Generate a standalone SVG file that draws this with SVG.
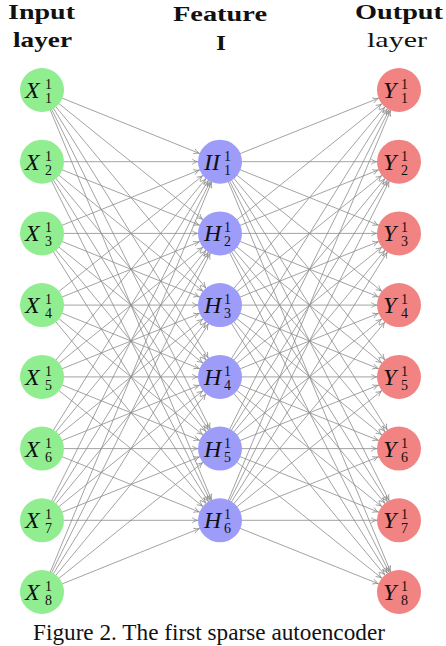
<svg xmlns="http://www.w3.org/2000/svg" width="446" height="646" viewBox="0 0 446 646">
<style>
.e line{stroke:#8c8c8c;stroke-width:0.8;fill:none;marker-end:url(#ah)}
.hd{font-family:"Liberation Serif",serif;font-weight:bold;font-size:21px;fill:#111}
.in{fill:#90ee90}
.hid{fill:#9d9cf8}
.out{fill:#f28383}
.m{font-family:"Liberation Serif",serif;font-style:italic;font-size:24px;fill:#111}
.s{font-family:"Liberation Serif",serif;font-size:14px;fill:#111}
.cap{font-family:"Liberation Serif",serif;font-size:23px;fill:#111}
</style>
<defs>
<marker id="ah" markerUnits="userSpaceOnUse" markerWidth="40" markerHeight="40" refX="22.3" refY="0" orient="auto" overflow="visible">
<path d="M-5.5,-2.6 C-3.6,-1.1 -1.2,-0.3 0,0 C-1.2,0.3 -3.6,1.1 -5.5,2.6" fill="none" stroke="#8c8c8c" stroke-width="0.8"/>
</marker>
</defs>
<rect width="446" height="646" fill="#fff"/>
<text class="hd" x="8" y="19" textLength="67" lengthAdjust="spacingAndGlyphs">Input</text>
<text class="hd" x="13" y="47" textLength="59" lengthAdjust="spacingAndGlyphs">layer</text>
<text class="hd" x="173" y="21" textLength="94" lengthAdjust="spacingAndGlyphs">Feature</text>
<text class="hd" x="216" y="50" textLength="10" lengthAdjust="spacingAndGlyphs">I</text>
<text class="hd" x="355" y="19" textLength="88" lengthAdjust="spacingAndGlyphs">Output</text>
<text class="hd" x="367" y="47" textLength="60" lengthAdjust="spacingAndGlyphs" style="font-weight:normal">layer</text>
<g class="e" id="connectors">
<line x1="42" y1="90" x2="220" y2="161.7"/><line x1="42" y1="90" x2="220" y2="233.4"/><line x1="42" y1="90" x2="220" y2="305.1"/><line x1="42" y1="90" x2="220" y2="376.9"/><line x1="42" y1="90" x2="220" y2="448.6"/><line x1="42" y1="90" x2="220" y2="520.3"/>
<line x1="42" y1="161.7" x2="220" y2="161.7"/><line x1="42" y1="161.7" x2="220" y2="233.4"/><line x1="42" y1="161.7" x2="220" y2="305.1"/><line x1="42" y1="161.7" x2="220" y2="376.9"/><line x1="42" y1="161.7" x2="220" y2="448.6"/><line x1="42" y1="161.7" x2="220" y2="520.3"/>
<line x1="42" y1="233.4" x2="220" y2="161.7"/><line x1="42" y1="233.4" x2="220" y2="233.4"/><line x1="42" y1="233.4" x2="220" y2="305.1"/><line x1="42" y1="233.4" x2="220" y2="376.9"/><line x1="42" y1="233.4" x2="220" y2="448.6"/><line x1="42" y1="233.4" x2="220" y2="520.3"/>
<line x1="42" y1="305.1" x2="220" y2="161.7"/><line x1="42" y1="305.1" x2="220" y2="233.4"/><line x1="42" y1="305.1" x2="220" y2="305.1"/><line x1="42" y1="305.1" x2="220" y2="376.9"/><line x1="42" y1="305.1" x2="220" y2="448.6"/><line x1="42" y1="305.1" x2="220" y2="520.3"/>
<line x1="42" y1="376.9" x2="220" y2="161.7"/><line x1="42" y1="376.9" x2="220" y2="233.4"/><line x1="42" y1="376.9" x2="220" y2="305.1"/><line x1="42" y1="376.9" x2="220" y2="376.9"/><line x1="42" y1="376.9" x2="220" y2="448.6"/><line x1="42" y1="376.9" x2="220" y2="520.3"/>
<line x1="42" y1="448.6" x2="220" y2="161.7"/><line x1="42" y1="448.6" x2="220" y2="233.4"/><line x1="42" y1="448.6" x2="220" y2="305.1"/><line x1="42" y1="448.6" x2="220" y2="376.9"/><line x1="42" y1="448.6" x2="220" y2="448.6"/><line x1="42" y1="448.6" x2="220" y2="520.3"/>
<line x1="42" y1="520.3" x2="220" y2="161.7"/><line x1="42" y1="520.3" x2="220" y2="233.4"/><line x1="42" y1="520.3" x2="220" y2="305.1"/><line x1="42" y1="520.3" x2="220" y2="376.9"/><line x1="42" y1="520.3" x2="220" y2="448.6"/><line x1="42" y1="520.3" x2="220" y2="520.3"/>
<line x1="42" y1="592" x2="220" y2="161.7"/><line x1="42" y1="592" x2="220" y2="233.4"/><line x1="42" y1="592" x2="220" y2="305.1"/><line x1="42" y1="592" x2="220" y2="376.9"/><line x1="42" y1="592" x2="220" y2="448.6"/><line x1="42" y1="592" x2="220" y2="520.3"/>
<line x1="220" y1="161.7" x2="399" y2="90"/><line x1="220" y1="161.7" x2="399" y2="161.7"/><line x1="220" y1="161.7" x2="399" y2="233.4"/><line x1="220" y1="161.7" x2="399" y2="305.1"/><line x1="220" y1="161.7" x2="399" y2="376.9"/><line x1="220" y1="161.7" x2="399" y2="448.6"/><line x1="220" y1="161.7" x2="399" y2="520.3"/><line x1="220" y1="161.7" x2="399" y2="592"/>
<line x1="220" y1="233.4" x2="399" y2="90"/><line x1="220" y1="233.4" x2="399" y2="161.7"/><line x1="220" y1="233.4" x2="399" y2="233.4"/><line x1="220" y1="233.4" x2="399" y2="305.1"/><line x1="220" y1="233.4" x2="399" y2="376.9"/><line x1="220" y1="233.4" x2="399" y2="448.6"/><line x1="220" y1="233.4" x2="399" y2="520.3"/><line x1="220" y1="233.4" x2="399" y2="592"/>
<line x1="220" y1="305.1" x2="399" y2="90"/><line x1="220" y1="305.1" x2="399" y2="161.7"/><line x1="220" y1="305.1" x2="399" y2="233.4"/><line x1="220" y1="305.1" x2="399" y2="305.1"/><line x1="220" y1="305.1" x2="399" y2="376.9"/><line x1="220" y1="305.1" x2="399" y2="448.6"/><line x1="220" y1="305.1" x2="399" y2="520.3"/><line x1="220" y1="305.1" x2="399" y2="592"/>
<line x1="220" y1="376.9" x2="399" y2="90"/><line x1="220" y1="376.9" x2="399" y2="161.7"/><line x1="220" y1="376.9" x2="399" y2="233.4"/><line x1="220" y1="376.9" x2="399" y2="305.1"/><line x1="220" y1="376.9" x2="399" y2="376.9"/><line x1="220" y1="376.9" x2="399" y2="448.6"/><line x1="220" y1="376.9" x2="399" y2="520.3"/><line x1="220" y1="376.9" x2="399" y2="592"/>
<line x1="220" y1="448.6" x2="399" y2="90"/><line x1="220" y1="448.6" x2="399" y2="161.7"/><line x1="220" y1="448.6" x2="399" y2="233.4"/><line x1="220" y1="448.6" x2="399" y2="305.1"/><line x1="220" y1="448.6" x2="399" y2="376.9"/><line x1="220" y1="448.6" x2="399" y2="448.6"/><line x1="220" y1="448.6" x2="399" y2="520.3"/><line x1="220" y1="448.6" x2="399" y2="592"/>
<line x1="220" y1="520.3" x2="399" y2="90"/><line x1="220" y1="520.3" x2="399" y2="161.7"/><line x1="220" y1="520.3" x2="399" y2="233.4"/><line x1="220" y1="520.3" x2="399" y2="305.1"/><line x1="220" y1="520.3" x2="399" y2="376.9"/><line x1="220" y1="520.3" x2="399" y2="448.6"/><line x1="220" y1="520.3" x2="399" y2="520.3"/><line x1="220" y1="520.3" x2="399" y2="592"/>
</g>
<g id="X1"><circle class="in" cx="42" cy="90" r="22"/><text class="m" x="25" y="98">X</text><text class="s" x="45" y="89">1</text><text class="s" x="45" y="103">1</text></g>
<g id="X2"><circle class="in" cx="42" cy="161.7" r="22"/><text class="m" x="25" y="169.7">X</text><text class="s" x="45" y="160.7">1</text><text class="s" x="45" y="174.7">2</text></g>
<g id="X3"><circle class="in" cx="42" cy="233.4" r="22"/><text class="m" x="25" y="241.4">X</text><text class="s" x="45" y="232.4">1</text><text class="s" x="45" y="246.4">3</text></g>
<g id="X4"><circle class="in" cx="42" cy="305.1" r="22"/><text class="m" x="25" y="313.1">X</text><text class="s" x="45" y="304.1">1</text><text class="s" x="45" y="318.1">4</text></g>
<g id="X5"><circle class="in" cx="42" cy="376.9" r="22"/><text class="m" x="25" y="384.9">X</text><text class="s" x="45" y="375.9">1</text><text class="s" x="45" y="389.9">5</text></g>
<g id="X6"><circle class="in" cx="42" cy="448.6" r="22"/><text class="m" x="25" y="456.6">X</text><text class="s" x="45" y="447.6">1</text><text class="s" x="45" y="461.6">6</text></g>
<g id="X7"><circle class="in" cx="42" cy="520.3" r="22"/><text class="m" x="25" y="528.3">X</text><text class="s" x="45" y="519.3">1</text><text class="s" x="45" y="533.3">7</text></g>
<g id="X8"><circle class="in" cx="42" cy="592" r="22"/><text class="m" x="25" y="600">X</text><text class="s" x="45" y="591">1</text><text class="s" x="45" y="605">8</text></g>
<g id="H1"><circle class="hid" cx="220" cy="161.7" r="22"/><text class="m" x="204" y="169.7">II</text><text class="s" x="224" y="160.7">1</text><text class="s" x="224" y="174.7">1</text></g>
<g id="H2"><circle class="hid" cx="220" cy="233.4" r="22"/><text class="m" x="204" y="241.4">H</text><text class="s" x="224" y="232.4">1</text><text class="s" x="224" y="246.4">2</text></g>
<g id="H3"><circle class="hid" cx="220" cy="305.1" r="22"/><text class="m" x="204" y="313.1">H</text><text class="s" x="224" y="304.1">1</text><text class="s" x="224" y="318.1">3</text></g>
<g id="H4"><circle class="hid" cx="220" cy="376.9" r="22"/><text class="m" x="204" y="384.9">H</text><text class="s" x="224" y="375.9">1</text><text class="s" x="224" y="389.9">4</text></g>
<g id="H5"><circle class="hid" cx="220" cy="448.6" r="22"/><text class="m" x="204" y="456.6">H</text><text class="s" x="224" y="447.6">1</text><text class="s" x="224" y="461.6">5</text></g>
<g id="H6"><circle class="hid" cx="220" cy="520.3" r="22"/><text class="m" x="204" y="528.3">H</text><text class="s" x="224" y="519.3">1</text><text class="s" x="224" y="533.3">6</text></g>
<g id="Y1"><circle class="out" cx="399" cy="90" r="22"/><text class="m" x="383" y="98">Y</text><text class="s" x="401" y="89">1</text><text class="s" x="401" y="103">1</text></g>
<g id="Y2"><circle class="out" cx="399" cy="161.7" r="22"/><text class="m" x="383" y="169.7">Y</text><text class="s" x="401" y="160.7">1</text><text class="s" x="401" y="174.7">2</text></g>
<g id="Y3"><circle class="out" cx="399" cy="233.4" r="22"/><text class="m" x="383" y="241.4">Y</text><text class="s" x="401" y="232.4">1</text><text class="s" x="401" y="246.4">3</text></g>
<g id="Y4"><circle class="out" cx="399" cy="305.1" r="22"/><text class="m" x="383" y="313.1">Y</text><text class="s" x="401" y="304.1">1</text><text class="s" x="401" y="318.1">4</text></g>
<g id="Y5"><circle class="out" cx="399" cy="376.9" r="22"/><text class="m" x="383" y="384.9">Y</text><text class="s" x="401" y="375.9">1</text><text class="s" x="401" y="389.9">5</text></g>
<g id="Y6"><circle class="out" cx="399" cy="448.6" r="22"/><text class="m" x="383" y="456.6">Y</text><text class="s" x="401" y="447.6">1</text><text class="s" x="401" y="461.6">6</text></g>
<g id="Y7"><circle class="out" cx="399" cy="520.3" r="22"/><text class="m" x="383" y="528.3">Y</text><text class="s" x="401" y="519.3">1</text><text class="s" x="401" y="533.3">7</text></g>
<g id="Y8"><circle class="out" cx="399" cy="592" r="22"/><text class="m" x="383" y="600">Y</text><text class="s" x="401" y="591">1</text><text class="s" x="401" y="605">8</text></g>
<text class="cap" x="33" y="640" textLength="352" lengthAdjust="spacingAndGlyphs">Figure 2. The first sparse autoencoder</text>
</svg>
